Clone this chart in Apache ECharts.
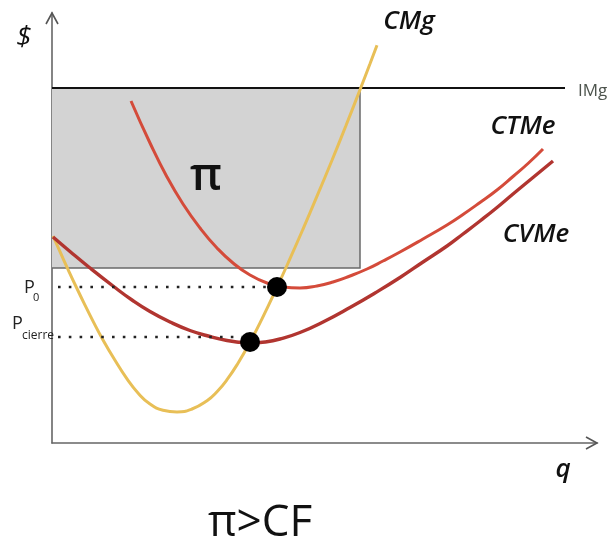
<!DOCTYPE html>
<html>
<head>
<meta charset="utf-8">
<script src="https://cdn.jsdelivr.net/npm/echarts@6/dist/echarts.min.js"></script>
<style>
html,body{margin:0;padding:0;background:#fff;}
#chart{width:613px;height:547px;}
</style>
</head>
<body>
<div id="chart"></div>
<script>
// ---- data (q on x, $ on y, arbitrary units) ----
const cmg  = [[1,207],[8,191.3],[16,173.7],[24,156.5],[32,139.9],[41,121.9],[51,103.1],[63,82.7],[75,64.1],[86,50],[98,39],[111,32.8],[125,31.1],[140,34],[155,42.3],[165,51.3],[175,63.3],[186,79.8],[198,100.8],[210,124.2],[225,155.7],[238,184.3],[251,213.9],[265,246.8],[280,282.8],[294,317.5],[308,353.2],[318,379.2],[325,397.8]];
const ctme = [[79,342],[98,300],[115,266],[131,239],[148,215],[165,195],[181,180],[198,168],[215,160],[231,156],[248,155],[265,157],[281,161],[298,167],[315,174],[331,182],[348,191],[371,204],[395,218],[411,228.5],[428,240.5],[445,253],[461,266.5],[476,279.5],[491,294]];
const cvme = [[1,206],[18,191.5],[38,175],[61,157],[80,143],[98,131.5],[118,121],[138,112.5],[158,106.5],[175,102.5],[188,100.7],[198,100],[213,101],[228,104],[248,110.5],[273,122],[298,135.5],[323,150],[348,165.5],[371,181],[395,197],[411,209],[428,222],[445,235.5],[461,249],[481,265.5],[501,282]];
const imgLine = [[0,355],[513,355]];
const profitBox = [[0,175],[308,355]];
const priceLevels = [156,106];
const priceLineEnds = [[6,216],[6,190]];
const optimumPoints = [[225,156],[198,101]];
const curveNames = ['CMg','CTMe','CVMe'];

const chart = echarts.init(document.getElementById('chart'));
const font = '"Open Sans", sans-serif';

const dotted = priceLevels.map((lv,i)=>({
  type:'line', symbol:'none', silent:true, z:4,
  data:[[priceLineEnds[i][0],lv],[priceLineEnds[i][1],lv]],
  lineStyle:{color:'#222',width:2.6,type:[2.6,8.2]}
}));

function txt(text, x, y, size, opts){
  return {
    type:'text', x:x, y:y, z:20,
    style:Object.assign({text:text, font: size+'px '+font, fill:'#111', align:'center', verticalAlign:'middle'}, opts||{})
  };
}

chart.setOption({
  animation:false,
  grid:{left:52,right:16,top:13,bottom:104},
  xAxis:{type:'value',min:0,max:545,
    axisLine:{show:true,onZero:false,lineStyle:{color:'#666',width:1.6}},
    axisTick:{show:false},axisLabel:{show:false},splitLine:{show:false}},
  yAxis:{type:'value',min:0,max:430,
    axisLine:{show:true,onZero:false,lineStyle:{color:'#666',width:1.6}},
    axisTick:{show:false},axisLabel:{show:false},splitLine:{show:false}},
  series:[
    {type:'custom', silent:true, z:1,
     data:[[profitBox[0][0],profitBox[0][1],profitBox[1][0],profitBox[1][1]]],
     renderItem:function(params,api){
       const p0 = api.coord([api.value(0),api.value(1)]);
       const p1 = api.coord([api.value(2),api.value(3)]);
       return {type:'group',children:[
         {type:'rect',shape:{x:p0[0],y:p1[1],width:p1[0]-p0[0],height:p0[1]-p1[1]},
          style:{fill:'#d3d3d3',stroke:null}},
         {type:'polyline',shape:{points:[[p0[0],p0[1]],[p1[0],p0[1]],[p1[0],p1[1]]]},
          style:{stroke:'#6a6a6a',lineWidth:1.5,fill:null}}
       ]};
     }},
    {type:'line', name:'IMg', data:imgLine, symbol:'none', z:3,
     lineStyle:{color:'#111',width:2}},
    {type:'line', name:curveNames[0], data:cmg, symbol:'none', smooth:0.5, z:3,
     lineStyle:{color:'#E8BF57',width:3}},
    {type:'line', name:curveNames[1], data:ctme, symbol:'none', smooth:0.5, z:3,
     lineStyle:{color:'#D44B3A',width:3}},
    {type:'line', name:curveNames[2], data:cvme, symbol:'none', smooth:0.5, z:3,
     lineStyle:{color:'#B13530',width:3.4}},
    ...dotted,
    {type:'scatter', data:optimumPoints, symbol:'circle', symbolSize:20, z:6,
     itemStyle:{color:'#000',opacity:1}}
  ],
  graphic:[
    {type:'polyline', z:20, shape:{points:[[46,24],[52,13],[58,24]]}, style:{stroke:'#555',lineWidth:1.6,fill:null}},
    {type:'polyline', z:20, shape:{points:[[586,437],[597,443],[586,449]]}, style:{stroke:'#555',lineWidth:1.6,fill:null}},
    txt('$', 24, 38, 28, {font:'italic 28px '+font}),
    txt('CMg', 409, 22, 26, {font:'italic 600 26px '+font}),
    txt('IMg', 578, 91, 17, {align:'left', fill:'#4d544d'}),
    txt('CTMe', 523, 127, 26, {font:'italic 600 26px '+font}),
    txt('CVMe', 536, 235, 26, {font:'italic 600 26px '+font}),
    txt('π', 206, 177, 46, {font:'600 46px '+font}),
    txt('q', 563, 470, 26, {font:'italic 600 26px '+font}),
    txt('π>CF', 260, 523, 44),
    txt('P', 24, 288, 18, {align:'left', fill:'#222'}),
    txt('0', 33, 298, 11, {align:'left', fill:'#222'}),
    txt('P', 12, 324, 18, {align:'left', fill:'#222'}),
    txt('cierre', 22, 336, 12, {align:'left', fill:'#222'})
  ]
});
</script>
</body>
</html>
